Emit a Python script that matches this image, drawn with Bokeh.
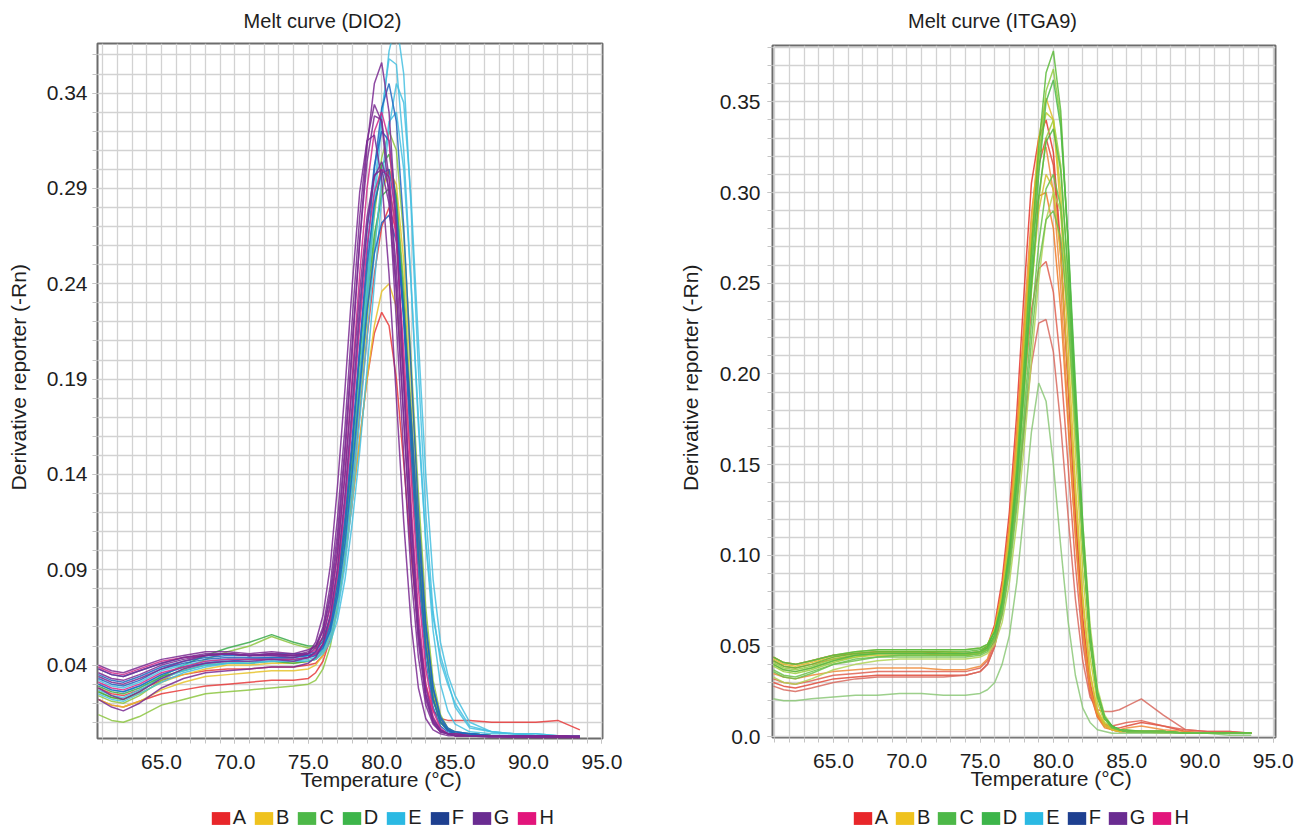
from math import pi
from bokeh.plotting import figure
from bokeh.models import (Range1d, FixedTicker, CustomJSTickFormatter, Label, Legend,
                          LegendItem, Title)
from bokeh.layouts import row, column
from bokeh.embed import file_html
from bokeh.resources import INLINE

FONT = "Liberation Sans"

# ---------------- data ----------------
X_TICK_LABELS = ["65.0", "70.0", "75.0", "80.0", "85.0", "90.0", "95.0"]
DIO2_Y_TICK_LABELS = ["0.04", "0.09", "0.14", "0.19", "0.24", "0.29", "0.34"]
ITGA9_Y_TICK_LABELS = ["0.0", "0.05", "0.10", "0.15", "0.20", "0.25", "0.30", "0.35"]
LEGEND_LABELS = ["A", "B", "C", "D", "E", "F", "G", "H"]

TEMP_DIO2 = [60.7, 61.6, 62.4, 63.5, 65.0, 66.5, 68.0, 69.5, 71.0, 72.5, 74.0, 75.0,
             75.5, 76.0, 76.5, 77.0, 77.5, 78.0, 78.5, 79.0, 79.5, 80.0, 80.5, 81.0, 81.5,
             82.0, 82.5, 83.0, 83.5, 84.0, 84.5, 85.0, 86.0, 87.5, 89.0, 90.5, 92.0, 93.5]

DIO2_A1 = [0.022, 0.019, 0.018, 0.021, 0.025, 0.027, 0.029, 0.030, 0.031, 0.032, 0.032, 0.033,
           0.036, 0.042, 0.054, 0.072, 0.096, 0.126, 0.158, 0.190, 0.214, 0.225, 0.218, 0.190, 0.146,
           0.098, 0.058, 0.030, 0.016, 0.012, 0.011, 0.011, 0.011, 0.010, 0.010, 0.010, 0.011, 0.006]
DIO2_A2 = [0.028, 0.025, 0.024, 0.027, 0.032, 0.035, 0.037, 0.038, 0.038, 0.039, 0.039, 0.040,
           0.041, 0.045, 0.054, 0.072, 0.098, 0.133, 0.172, 0.212, 0.245, 0.270, 0.280, 0.268, 0.228,
           0.170, 0.108, 0.056, 0.024, 0.010, 0.006, 0.004, 0.004, 0.003, 0.003, 0.003, 0.003, 0.002]
DIO2_B1 = [0.022, 0.019, 0.018, 0.021, 0.027, 0.031, 0.034, 0.035, 0.036, 0.037, 0.037, 0.038,
           0.040, 0.045, 0.055, 0.072, 0.096, 0.126, 0.158, 0.190, 0.218, 0.236, 0.240, 0.228, 0.194,
           0.145, 0.094, 0.050, 0.022, 0.010, 0.006, 0.004, 0.004, 0.003, 0.003, 0.003, 0.003, 0.002]
DIO2_B2 = [0.026, 0.023, 0.022, 0.025, 0.031, 0.035, 0.038, 0.040, 0.040, 0.041, 0.041, 0.042,
           0.043, 0.047, 0.056, 0.074, 0.100, 0.136, 0.178, 0.222, 0.260, 0.288, 0.300, 0.292, 0.252,
           0.190, 0.122, 0.064, 0.028, 0.012, 0.006, 0.004, 0.004, 0.003, 0.003, 0.003, 0.003, 0.002]
DIO2_C1 = [0.014, 0.011, 0.010, 0.013, 0.019, 0.022, 0.025, 0.026, 0.027, 0.028, 0.029, 0.030,
           0.032, 0.038, 0.050, 0.070, 0.098, 0.136, 0.180, 0.224, 0.262, 0.290, 0.300, 0.286, 0.240,
           0.175, 0.110, 0.058, 0.026, 0.011, 0.006, 0.004, 0.003, 0.003, 0.003, 0.003, 0.003, 0.002]
DIO2_C2 = [0.024, 0.021, 0.020, 0.024, 0.032, 0.038, 0.043, 0.047, 0.050, 0.055, 0.051, 0.049,
           0.049, 0.052, 0.061, 0.080, 0.108, 0.146, 0.190, 0.236, 0.276, 0.306, 0.320, 0.310, 0.265,
           0.200, 0.130, 0.070, 0.032, 0.014, 0.007, 0.005, 0.004, 0.003, 0.003, 0.003, 0.003, 0.002]
DIO2_D1 = [0.026, 0.023, 0.022, 0.026, 0.034, 0.040, 0.045, 0.049, 0.052, 0.056, 0.052, 0.050,
           0.050, 0.054, 0.064, 0.084, 0.115, 0.155, 0.200, 0.244, 0.280, 0.302, 0.308, 0.285, 0.232,
           0.165, 0.100, 0.050, 0.022, 0.010, 0.006, 0.004, 0.004, 0.003, 0.003, 0.003, 0.003, 0.002]
DIO2_D2 = [0.029, 0.026, 0.025, 0.028, 0.034, 0.037, 0.040, 0.041, 0.041, 0.042, 0.041, 0.042,
           0.043, 0.048, 0.058, 0.078, 0.108, 0.147, 0.190, 0.232, 0.266, 0.286, 0.290, 0.270, 0.222,
           0.160, 0.098, 0.050, 0.022, 0.010, 0.006, 0.004, 0.004, 0.003, 0.003, 0.003, 0.003, 0.002]
DIO2_E1 = [0.030, 0.027, 0.026, 0.029, 0.035, 0.039, 0.041, 0.043, 0.043, 0.044, 0.043, 0.044,
           0.045, 0.048, 0.056, 0.072, 0.098, 0.135, 0.180, 0.230, 0.280, 0.325, 0.362, 0.378, 0.350,
           0.280, 0.195, 0.120, 0.068, 0.042, 0.030, 0.020, 0.008, 0.005, 0.004, 0.004, 0.003, 0.003]
DIO2_E2 = [0.032, 0.029, 0.028, 0.031, 0.037, 0.040, 0.042, 0.043, 0.043, 0.044, 0.044, 0.045,
           0.046, 0.049, 0.058, 0.076, 0.104, 0.142, 0.190, 0.240, 0.288, 0.330, 0.358, 0.355, 0.310,
           0.240, 0.165, 0.105, 0.065, 0.045, 0.032, 0.018, 0.007, 0.005, 0.004, 0.004, 0.003, 0.003]
DIO2_E3 = [0.027, 0.024, 0.023, 0.027, 0.033, 0.037, 0.040, 0.041, 0.042, 0.042, 0.042, 0.043,
           0.044, 0.047, 0.054, 0.068, 0.092, 0.126, 0.168, 0.212, 0.256, 0.296, 0.325, 0.330, 0.300,
           0.240, 0.170, 0.105, 0.058, 0.030, 0.016, 0.009, 0.005, 0.004, 0.004, 0.003, 0.003, 0.003]
DIO2_E4 = [0.025, 0.022, 0.021, 0.025, 0.031, 0.036, 0.039, 0.041, 0.041, 0.042, 0.042, 0.042,
           0.043, 0.046, 0.052, 0.064, 0.085, 0.115, 0.152, 0.195, 0.240, 0.285, 0.322, 0.345, 0.335,
           0.285, 0.210, 0.140, 0.085, 0.052, 0.035, 0.024, 0.010, 0.005, 0.004, 0.003, 0.003, 0.003]
DIO2_F1 = [0.035, 0.032, 0.031, 0.034, 0.039, 0.042, 0.044, 0.045, 0.045, 0.046, 0.045, 0.045,
           0.046, 0.050, 0.060, 0.080, 0.112, 0.155, 0.205, 0.255, 0.300, 0.332, 0.345, 0.325, 0.270,
           0.195, 0.120, 0.062, 0.028, 0.013, 0.007, 0.005, 0.004, 0.003, 0.003, 0.003, 0.003, 0.002]
DIO2_F2 = [0.033, 0.030, 0.029, 0.032, 0.038, 0.041, 0.043, 0.044, 0.044, 0.044, 0.044, 0.045,
           0.046, 0.051, 0.062, 0.084, 0.118, 0.160, 0.207, 0.250, 0.282, 0.298, 0.300, 0.275, 0.225,
           0.160, 0.098, 0.050, 0.022, 0.010, 0.006, 0.004, 0.004, 0.003, 0.003, 0.003, 0.003, 0.002]
DIO2_F3 = [0.030, 0.027, 0.026, 0.029, 0.035, 0.039, 0.041, 0.042, 0.043, 0.043, 0.043, 0.044,
           0.045, 0.049, 0.058, 0.076, 0.104, 0.142, 0.185, 0.226, 0.256, 0.272, 0.276, 0.262, 0.225,
           0.170, 0.110, 0.060, 0.028, 0.012, 0.006, 0.005, 0.004, 0.003, 0.003, 0.003, 0.003, 0.002]
DIO2_F4 = [0.038, 0.035, 0.034, 0.037, 0.041, 0.044, 0.045, 0.046, 0.045, 0.046, 0.046, 0.046,
           0.047, 0.053, 0.066, 0.090, 0.126, 0.172, 0.222, 0.268, 0.302, 0.320, 0.315, 0.280, 0.220,
           0.150, 0.088, 0.043, 0.018, 0.008, 0.005, 0.004, 0.003, 0.003, 0.003, 0.003, 0.003, 0.002]
DIO2_G1 = [0.040, 0.037, 0.036, 0.039, 0.043, 0.045, 0.047, 0.047, 0.046, 0.047, 0.046, 0.048,
           0.050, 0.058, 0.075, 0.105, 0.150, 0.205, 0.262, 0.312, 0.345, 0.356, 0.330, 0.270, 0.190,
           0.115, 0.058, 0.025, 0.011, 0.006, 0.004, 0.004, 0.003, 0.003, 0.003, 0.003, 0.003, 0.003]
DIO2_G2 = [0.038, 0.035, 0.034, 0.037, 0.041, 0.044, 0.046, 0.046, 0.045, 0.046, 0.045, 0.047,
           0.050, 0.060, 0.082, 0.118, 0.165, 0.222, 0.275, 0.315, 0.334, 0.325, 0.285, 0.220, 0.150,
           0.088, 0.044, 0.019, 0.009, 0.005, 0.004, 0.003, 0.003, 0.003, 0.002, 0.002, 0.002, 0.002]
DIO2_G3 = [0.036, 0.033, 0.032, 0.035, 0.040, 0.043, 0.045, 0.046, 0.045, 0.045, 0.044, 0.046,
           0.052, 0.066, 0.092, 0.135, 0.185, 0.240, 0.288, 0.315, 0.318, 0.295, 0.245, 0.180, 0.115,
           0.062, 0.028, 0.012, 0.006, 0.004, 0.003, 0.003, 0.003, 0.002, 0.002, 0.002, 0.002, 0.002]
DIO2_G4 = [0.028, 0.024, 0.022, 0.026, 0.033, 0.038, 0.041, 0.042, 0.042, 0.043, 0.042, 0.044,
           0.047, 0.055, 0.072, 0.100, 0.140, 0.188, 0.236, 0.275, 0.297, 0.300, 0.282, 0.235, 0.170,
           0.105, 0.055, 0.024, 0.010, 0.005, 0.004, 0.003, 0.003, 0.003, 0.003, 0.003, 0.003, 0.002]
DIO2_G5 = [0.022, 0.018, 0.016, 0.020, 0.028, 0.033, 0.036, 0.037, 0.038, 0.039, 0.039, 0.041,
           0.044, 0.051, 0.066, 0.092, 0.130, 0.178, 0.228, 0.270, 0.296, 0.304, 0.290, 0.248, 0.185,
           0.118, 0.062, 0.028, 0.012, 0.006, 0.004, 0.003, 0.003, 0.003, 0.003, 0.003, 0.002, 0.002]
DIO2_G6 = [0.034, 0.031, 0.030, 0.033, 0.038, 0.042, 0.045, 0.046, 0.045, 0.045, 0.045, 0.046,
           0.049, 0.058, 0.078, 0.110, 0.155, 0.210, 0.262, 0.304, 0.328, 0.326, 0.295, 0.238, 0.168,
           0.102, 0.052, 0.022, 0.010, 0.005, 0.004, 0.003, 0.003, 0.003, 0.003, 0.002, 0.002, 0.002]
DIO2_H1 = [0.039, 0.036, 0.035, 0.038, 0.042, 0.044, 0.045, 0.046, 0.045, 0.046, 0.045, 0.046,
           0.048, 0.055, 0.070, 0.098, 0.140, 0.192, 0.245, 0.290, 0.320, 0.330, 0.315, 0.265, 0.195,
           0.125, 0.068, 0.030, 0.013, 0.006, 0.004, 0.004, 0.003, 0.003, 0.003, 0.003, 0.003, 0.002]
DIO2_H2 = [0.031, 0.028, 0.027, 0.030, 0.036, 0.039, 0.042, 0.043, 0.043, 0.043, 0.043, 0.044,
           0.046, 0.051, 0.064, 0.088, 0.124, 0.170, 0.218, 0.260, 0.288, 0.300, 0.296, 0.262, 0.205,
           0.140, 0.080, 0.038, 0.016, 0.007, 0.004, 0.003, 0.003, 0.003, 0.003, 0.003, 0.003, 0.002]

TEMP_ITGA9 = [60.9, 61.6, 62.4, 63.5, 65.0, 66.5, 68.0, 69.5, 71.0, 72.5, 74.0, 75.0,
              75.5, 76.0, 76.5, 77.0, 77.5, 78.0, 78.5, 79.0, 79.5, 80.0, 80.5, 81.0, 81.5,
              82.0, 82.5, 83.0, 83.5, 84.0, 84.5, 85.0, 86.0, 87.5, 89.0, 90.5, 92.0, 93.5]

ITGA9_A1 = [0.044, 0.041, 0.040, 0.042, 0.045, 0.046, 0.047, 0.047, 0.047, 0.046, 0.046, 0.047,
            0.050, 0.062, 0.086, 0.124, 0.178, 0.245, 0.305, 0.330, 0.340, 0.322, 0.270, 0.195, 0.122,
            0.064, 0.028, 0.012, 0.006, 0.004, 0.003, 0.003, 0.003, 0.003, 0.002, 0.002, 0.002, 0.002]
ITGA9_A2 = [0.030, 0.028, 0.027, 0.029, 0.032, 0.033, 0.034, 0.034, 0.034, 0.034, 0.034, 0.036,
            0.040, 0.050, 0.072, 0.108, 0.158, 0.218, 0.275, 0.315, 0.330, 0.315, 0.265, 0.195, 0.124,
            0.066, 0.030, 0.013, 0.007, 0.005, 0.005, 0.006, 0.008, 0.006, 0.003, 0.002, 0.002, 0.002]
ITGA9_A3 = [0.028, 0.026, 0.025, 0.027, 0.030, 0.032, 0.033, 0.033, 0.033, 0.033, 0.034, 0.036,
            0.040, 0.050, 0.068, 0.095, 0.130, 0.170, 0.205, 0.228, 0.230, 0.212, 0.172, 0.122, 0.076,
            0.042, 0.022, 0.015, 0.014, 0.014, 0.015, 0.017, 0.021, 0.012, 0.004, 0.003, 0.003, 0.002]
ITGA9_A4 = [0.032, 0.030, 0.029, 0.031, 0.034, 0.035, 0.036, 0.036, 0.036, 0.036, 0.036, 0.038,
            0.042, 0.052, 0.072, 0.103, 0.145, 0.192, 0.235, 0.258, 0.262, 0.245, 0.205, 0.150, 0.095,
            0.052, 0.024, 0.011, 0.007, 0.006, 0.007, 0.008, 0.009, 0.006, 0.004, 0.003, 0.003, 0.002]
ITGA9_A5 = [0.042, 0.039, 0.038, 0.040, 0.043, 0.045, 0.046, 0.046, 0.046, 0.045, 0.045, 0.046,
            0.049, 0.060, 0.082, 0.118, 0.168, 0.225, 0.272, 0.298, 0.300, 0.280, 0.235, 0.172, 0.110,
            0.058, 0.026, 0.011, 0.005, 0.004, 0.003, 0.003, 0.003, 0.003, 0.002, 0.002, 0.002, 0.002]
ITGA9_A6 = [0.035, 0.033, 0.032, 0.034, 0.036, 0.037, 0.038, 0.038, 0.038, 0.037, 0.037, 0.039,
            0.043, 0.055, 0.079, 0.116, 0.168, 0.230, 0.288, 0.322, 0.325, 0.300, 0.248, 0.178, 0.112,
            0.060, 0.027, 0.012, 0.006, 0.004, 0.004, 0.005, 0.006, 0.004, 0.003, 0.002, 0.002, 0.002]
ITGA9_B1 = [0.043, 0.040, 0.039, 0.041, 0.044, 0.046, 0.047, 0.047, 0.047, 0.047, 0.046, 0.047,
            0.050, 0.060, 0.080, 0.113, 0.160, 0.220, 0.282, 0.330, 0.352, 0.340, 0.290, 0.215, 0.140,
            0.078, 0.036, 0.015, 0.007, 0.004, 0.003, 0.003, 0.003, 0.002, 0.002, 0.002, 0.002, 0.002]
ITGA9_B2 = [0.040, 0.037, 0.036, 0.038, 0.042, 0.044, 0.045, 0.045, 0.045, 0.045, 0.045, 0.046,
            0.048, 0.056, 0.073, 0.101, 0.142, 0.194, 0.248, 0.290, 0.310, 0.302, 0.265, 0.200, 0.132,
            0.074, 0.034, 0.014, 0.006, 0.004, 0.003, 0.003, 0.003, 0.002, 0.002, 0.002, 0.002, 0.002]
ITGA9_C1 = [0.039, 0.036, 0.035, 0.037, 0.041, 0.044, 0.046, 0.046, 0.046, 0.046, 0.045, 0.046,
            0.048, 0.055, 0.070, 0.097, 0.136, 0.188, 0.245, 0.295, 0.330, 0.340, 0.315, 0.255, 0.180,
            0.108, 0.054, 0.023, 0.010, 0.005, 0.004, 0.003, 0.003, 0.003, 0.002, 0.002, 0.002, 0.002]
ITGA9_C2 = [0.033, 0.030, 0.029, 0.032, 0.037, 0.040, 0.042, 0.043, 0.043, 0.043, 0.043, 0.044,
            0.046, 0.051, 0.063, 0.085, 0.118, 0.160, 0.207, 0.252, 0.285, 0.300, 0.290, 0.248, 0.185,
            0.118, 0.062, 0.027, 0.012, 0.006, 0.004, 0.003, 0.003, 0.003, 0.002, 0.002, 0.002, 0.002]
ITGA9_C3 = [0.044, 0.041, 0.040, 0.042, 0.045, 0.047, 0.048, 0.048, 0.048, 0.048, 0.048, 0.049,
            0.051, 0.059, 0.077, 0.108, 0.153, 0.212, 0.272, 0.320, 0.344, 0.340, 0.300, 0.232, 0.158,
            0.092, 0.044, 0.019, 0.008, 0.005, 0.004, 0.003, 0.003, 0.003, 0.002, 0.002, 0.002, 0.002]
ITGA9_C4 = [0.041, 0.038, 0.037, 0.039, 0.043, 0.045, 0.046, 0.046, 0.046, 0.046, 0.046, 0.047,
            0.049, 0.056, 0.073, 0.102, 0.145, 0.202, 0.262, 0.318, 0.356, 0.368, 0.340, 0.272, 0.190,
            0.112, 0.054, 0.023, 0.010, 0.006, 0.004, 0.003, 0.003, 0.003, 0.002, 0.002, 0.002, 0.002]
ITGA9_D1 = [0.042, 0.039, 0.038, 0.040, 0.044, 0.046, 0.047, 0.047, 0.047, 0.047, 0.047, 0.048,
            0.050, 0.058, 0.075, 0.104, 0.148, 0.205, 0.268, 0.325, 0.366, 0.378, 0.345, 0.272, 0.185,
            0.108, 0.052, 0.022, 0.010, 0.006, 0.004, 0.004, 0.003, 0.003, 0.002, 0.002, 0.002, 0.002]
ITGA9_D2 = [0.040, 0.037, 0.036, 0.038, 0.042, 0.045, 0.046, 0.046, 0.046, 0.046, 0.046, 0.047,
            0.049, 0.056, 0.072, 0.100, 0.140, 0.195, 0.255, 0.310, 0.350, 0.362, 0.336, 0.275, 0.195,
            0.118, 0.058, 0.025, 0.011, 0.006, 0.004, 0.003, 0.003, 0.003, 0.002, 0.002, 0.002, 0.002]
ITGA9_D3 = [0.036, 0.033, 0.032, 0.035, 0.040, 0.043, 0.044, 0.045, 0.045, 0.045, 0.045, 0.046,
            0.048, 0.055, 0.070, 0.096, 0.132, 0.178, 0.228, 0.272, 0.302, 0.310, 0.292, 0.242, 0.175,
            0.108, 0.054, 0.023, 0.010, 0.005, 0.004, 0.003, 0.003, 0.003, 0.002, 0.002, 0.002, 0.002]
ITGA9_D4 = [0.021, 0.020, 0.020, 0.021, 0.022, 0.023, 0.023, 0.024, 0.024, 0.023, 0.023, 0.024,
            0.026, 0.030, 0.040, 0.056, 0.085, 0.125, 0.168, 0.195, 0.185, 0.150, 0.105, 0.064, 0.034,
            0.016, 0.008, 0.004, 0.003, 0.002, 0.002, 0.002, 0.002, 0.002, 0.002, 0.002, 0.001, 0.001]
ITGA9_D5 = [0.044, 0.041, 0.040, 0.042, 0.045, 0.047, 0.048, 0.048, 0.048, 0.048, 0.048, 0.049,
            0.051, 0.058, 0.074, 0.101, 0.140, 0.192, 0.248, 0.298, 0.328, 0.335, 0.312, 0.255, 0.182,
            0.110, 0.055, 0.024, 0.010, 0.006, 0.004, 0.003, 0.003, 0.003, 0.002, 0.002, 0.002, 0.002]
ITGA9_D6 = [0.037, 0.034, 0.033, 0.036, 0.040, 0.042, 0.044, 0.044, 0.044, 0.044, 0.044, 0.045,
            0.047, 0.053, 0.067, 0.091, 0.126, 0.170, 0.218, 0.260, 0.285, 0.290, 0.275, 0.232, 0.170,
            0.106, 0.054, 0.024, 0.010, 0.005, 0.004, 0.003, 0.003, 0.003, 0.002, 0.002, 0.002, 0.002]

DIO2_CURVES = [("A", DIO2_A1), ("A", DIO2_A2), ("B", DIO2_B1), ("B", DIO2_B2),
               ("C", DIO2_C1), ("C", DIO2_C2), ("D", DIO2_D1), ("D", DIO2_D2),
               ("E", DIO2_E1), ("E", DIO2_E2), ("E", DIO2_E3), ("E", DIO2_E4),
               ("F", DIO2_F1), ("F", DIO2_F2), ("F", DIO2_F3), ("F", DIO2_F4),
               ("H", DIO2_H1), ("H", DIO2_H2),
               ("G", DIO2_G1), ("G", DIO2_G2), ("G", DIO2_G3), ("G", DIO2_G4), ("G", DIO2_G5), ("G", DIO2_G6)]
ITGA9_CURVES = [("A1", ITGA9_A1), ("A2", ITGA9_A2), ("A3", ITGA9_A3), ("A4", ITGA9_A4),
                ("A5", ITGA9_A5), ("A6", ITGA9_A6), ("B1", ITGA9_B1), ("B2", ITGA9_B2),
                ("C1", ITGA9_C1), ("C2", ITGA9_C2), ("C3", ITGA9_C3), ("C4", ITGA9_C4),
                ("D1", ITGA9_D1), ("D2", ITGA9_D2), ("D3", ITGA9_D3), ("D4", ITGA9_D4),
                ("D5", ITGA9_D5), ("D6", ITGA9_D6)]

# ---------------- styles ----------------
LEGEND_COLORS = {"A": "#e8262a", "B": "#efc21e", "C": "#4db848", "D": "#3db54a",
                 "E": "#2bb9e3", "F": "#1e4090", "G": "#6a2c91", "H": "#e2157b"}
DIO2_LINE_COLORS = {"A": "#e8393a", "B": "#e6c229", "C": "#8cc63f", "D": "#3aaa4a",
                    "E": "#45c0e0", "F": "#1f66bf", "G": "#7a2a92", "H": "#d2288a"}
ITGA9_LINE_COLORS = {"A1": "#e5352b", "A2": "#e04a3a", "A3": "#d8685e", "A4": "#e06050",
                     "A5": "#f07a28", "A6": "#ee8a3a", "B1": "#e0b828", "B2": "#d4c030",
                     "C1": "#9acd3c", "C2": "#b0d455", "C3": "#c0cc30", "C4": "#8fcc40",
                     "D1": "#5cbb3a", "D2": "#4cb848", "D3": "#66c24a", "D4": "#8cc878",
                     "D5": "#52b845", "D6": "#6cc04a"}
TEXT_COLOR = "#1e1e1e"

TOP_H = 38      # strip holding the chart title
MID_H = 758     # plot figure
BOT_H = 33      # strip holding the legend


def strip(width, height):
    s = figure(width=width, height=height, x_range=Range1d(0, width), y_range=Range1d(height, 0),
               x_axis_location=None, y_axis_location=None, toolbar_location=None,
               output_backend="svg", min_border=0)
    s.outline_line_color = None
    s.background_fill_color = "white"
    s.border_fill_color = "white"
    s.xgrid.visible = False
    s.ygrid.visible = False
    return s


def tick_setup(labels):
    vals = [float(s) for s in labels]
    fmt = CustomJSTickFormatter(args=dict(vals=vals, labs=labels), code="""
        for (let i = 0; i < vals.length; i++) {
            if (Math.abs(tick - vals[i]) < 1e-6) { return labs[i]; }
        }
        return "";
    """)
    return vals, fmt


def make_chart(title, temps, curves, line_colors, ylabels, xr, yr, col_w, ylab_w, borders,
               title_x, ylabel_x, xlabel_offset, legend_x, legend_spacing, ystand):
    bl, br, bt, bb = borders
    # --- title strip
    t = strip(col_w, TOP_H)
    t.add_layout(Label(x=title_x, y=20, text=title, text_align="center", text_baseline="middle",
                       text_font=FONT, text_font_size="20px", text_color=TEXT_COLOR))
    # --- y label strip
    yl = strip(ylab_w, MID_H)
    yl.add_layout(Label(x=ylabel_x, y=364, text="Derivative reporter (-Rn)",
                        text_align="center", text_baseline="middle", angle=pi / 2,
                        text_font=FONT, text_font_size="21px", text_color=TEXT_COLOR))
    # --- plot
    p = figure(width=col_w - ylab_w, height=MID_H, x_range=Range1d(*xr), y_range=Range1d(*yr),
               output_backend="svg", toolbar_location=None,
               min_border_left=bl, min_border_right=br, min_border_top=bt, min_border_bottom=bb)
    p.background_fill_color = "white"
    p.border_fill_color = "white"
    p.outline_line_color = "#6c6c6c"
    p.outline_line_width = 2

    p.xgrid.ticker = FixedTicker(ticks=list(range(61, 96)))
    p.ygrid.ticker = FixedTicker(ticks=[round(0.01 * k, 2) for k in range(0, 39)])
    for g in (p.xgrid[0], p.ygrid[0]):
        g.grid_line_color = "#d2d2d2"
        g.grid_line_width = 1.3

    xv, xf = tick_setup(X_TICK_LABELS)
    yv, yf = tick_setup(ylabels)
    xa = p.xaxis[0]
    xa.ticker = FixedTicker(ticks=xv, minor_ticks=list(range(61, 96)))
    xa.formatter = xf
    xa.major_label_standoff = 11
    ya = p.yaxis[0]
    ya.ticker = FixedTicker(ticks=yv, minor_ticks=[round(0.01 * k, 2) for k in range(0, 39)])
    ya.formatter = yf
    ya.major_label_standoff = ystand
    for a in (xa, ya):
        a.axis_line_color = None
        a.major_tick_line_color = "#c4c4c4"
        a.minor_tick_line_color = "#c4c4c4"
        a.major_tick_in = 0
        a.major_tick_out = 5
        a.minor_tick_in = 0
        a.minor_tick_out = 5
        a.major_label_text_font = FONT
        a.major_label_text_font_size = "21px"
        a.major_label_text_color = TEXT_COLOR

    for key, vals in curves:
        p.line(temps, vals, line_color=line_colors[key], line_width=1.5, line_alpha=0.85)

    p.add_layout(Title(text="Temperature (°C)", align="left", offset=xlabel_offset,
                       vertical_align="top", standoff=-8, text_font=FONT,
                       text_font_size="21px", text_font_style="normal",
                       text_color=TEXT_COLOR), "below")

    # --- legend strip
    lg = strip(col_w, BOT_H)
    items = []
    for lab in LEGEND_LABELS:
        r = lg.rect(x=[-500], y=[-500], width=1, height=1,
                    fill_color=LEGEND_COLORS[lab], line_color=None)
        items.append(LegendItem(label=lab, renderers=[r]))
    leg = Legend(items=items, location=(legend_x, 0), orientation="horizontal",
                 glyph_width=23, glyph_height=16, label_standoff=1, spacing=legend_spacing,
                 padding=0, margin=0, border_line_color=None, background_fill_alpha=0,
                 label_text_font=FONT, label_text_font_size="20px",
                 label_text_color=TEXT_COLOR, label_width=0, label_height=0)
    lg.add_layout(leg)

    return column(t, row(yl, p), lg)


left = make_chart("Melt curve (DIO2)", TEMP_DIO2, DIO2_CURVES, DIO2_LINE_COLORS, DIO2_Y_TICK_LABELS,
                  (60.64, 95.04), (0.0015, 0.366), 658, 36, (61, 56, 5, 58),
                  322, 18, 203, 208.7, 6, 5)
right = make_chart("Melt curve (ITGA9)", TEMP_ITGA9, ITGA9_CURVES, ITGA9_LINE_COLORS, ITGA9_Y_TICK_LABELS,
                   (60.84, 95.15), (-0.0003, 0.381), 645, 50, (64, 28, 7, 59),
                   334, 32, 198, 192.7, 5, 7)

layout = row(left, right)
open("out.html", "w").write(file_html(layout, INLINE))
